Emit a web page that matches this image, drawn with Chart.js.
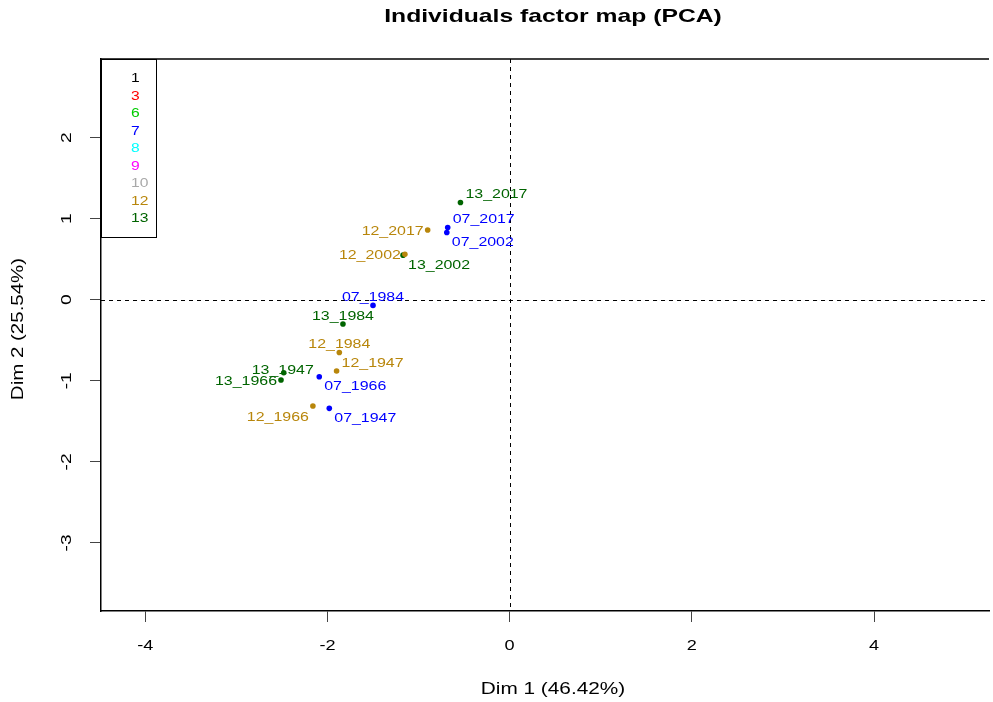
<!DOCTYPE html>
<html>
<head>
<meta charset="utf-8">
<script src="https://cdn.jsdelivr.net/npm/chart.js@4.4.1/dist/chart.umd.min.js"></script>
<style>
  html, body { margin: 0; padding: 0; background: #fff; }
  #wrap { width: 993px; height: 702px; position: relative; }
</style>
</head>
<body>
<div id="wrap"><canvas id="myChart"></canvas></div>
<script>
// individuals (labels are "group_year")
const names = ['13_2017', '07_2017', '07_2002', '12_2017', '12_2002', '13_2002', '07_1984', '13_1984',
               '12_1984', '12_1947', '07_1966', '13_1947', '13_1966', '12_1966', '07_1947'];
const dim1 = [-0.54, -0.68, -0.69, -0.90, -1.15, -1.17, -1.50, -1.83, -1.87, -1.90, -2.09, -2.48, -2.51, -2.16, -1.98];
const dim2 = [1.20, 0.89, 0.83, 0.86, 0.56, 0.55, -0.07, -0.30, -0.65, -0.88, -0.95, -0.90, -0.99, -1.31, -1.34];
// where the name sits around its point
const labelPos = ['ne', 'ne', 'se', 'w', 'w', 'se', 'n', 'n', 'n', 'ne', 'se', 'c', 'w', 'sw', 'se'];

const legendGroups = ['1', '3', '6', '7', '8', '9', '10', '12', '13'];
const legendColors = ['#000000', '#FF0000', '#00CD00', '#0000FF', '#00FFFF', '#FF00FF', '#A9A9A9', '#B8860B', '#006400'];
const plotGroups = ['07', '12', '13'];
const plotColors = { '07': '#0000FF', '12': '#B8860B', '13': '#006400' };

const xTicks = [-4, -2, 0, 2, 4];
const yTicks = [-3, -2, -1, 0, 1, 2];
const xRange = [-4.486, 5.262];
const yRange = [-3.84, 2.97];

const FONT = '"Liberation Sans", Arial, sans-serif';

// text a bit wider than the font, like the original device
function stretchText(ctx, text, x, y, size, color, align, opts) {
    opts = opts || {};
    ctx.save();
    ctx.translate(x, y);
    if (opts.rotate) ctx.rotate(opts.rotate);
    ctx.scale(opts.sx || 1.27, 1);
    ctx.font = (opts.bold ? 'bold ' : '') + size + 'px ' + FONT;
    ctx.fillStyle = color;
    ctx.textAlign = align;
    ctx.textBaseline = 'middle';
    ctx.fillText(text, 0, 0);
    ctx.restore();
}

const offsets = {
    ne: [5, -8, 'left'], se: [5, 10, 'left'], w: [-4, 1, 'right'], sw: [-4, 11, 'right'],
    n: [0, -8, 'center'], c: [-1, -2, 'center']
};

const mapPlugin = {
    id: 'mapText',
    beforeDatasetsDraw(chart) {
        const ctx = chart.ctx, a = chart.chartArea;
        const x0 = chart.scales.x.getPixelForValue(0);
        const y0 = chart.scales.y.getPixelForValue(0);
        ctx.save();
        ctx.strokeStyle = '#000';
        ctx.lineWidth = 1;
        ctx.setLineDash([4, 4]);
        ctx.beginPath();
        ctx.moveTo(Math.round(x0) + 0.5, a.top);
        ctx.lineTo(Math.round(x0) + 0.5, a.bottom);
        ctx.moveTo(a.left, Math.round(y0) + 0.5);
        ctx.lineTo(a.right, Math.round(y0) + 0.5);
        ctx.stroke();
        ctx.restore();
    },
    afterDraw(chart) {
        const ctx = chart.ctx, a = chart.chartArea;
        const sx = chart.scales.x, sy = chart.scales.y;

        // top of the box
        ctx.save();
        ctx.strokeStyle = '#000';
        ctx.lineWidth = 1.5;
        ctx.beginPath();
        ctx.moveTo(a.left, a.top);
        ctx.lineTo(a.right, a.top);
        ctx.stroke();
        ctx.restore();

        // tick labels
        xTicks.forEach(v => stretchText(ctx, String(v), sx.getPixelForValue(v), 646, 14.5, '#000', 'center', { sx: 1.25 }));
        yTicks.forEach(v => stretchText(ctx, String(v), 67, sy.getPixelForValue(v), 15, '#000', 'center', { sx: 1.28, rotate: -Math.PI / 2 }));

        // titles
        const midX = 553;
        stretchText(ctx, 'Individuals factor map (PCA)', midX, 17, 19, '#000', 'center', { bold: true, sx: 1.3 });
        stretchText(ctx, 'Dim 1 (46.42%)', midX, 690, 16, '#000', 'center', { sx: 1.3 });
        stretchText(ctx, 'Dim 2 (25.54%)', 19, 329, 16, '#000', 'center', { sx: 1.28, rotate: -Math.PI / 2 });

        // point names
        chart.data.datasets.forEach((ds, i) => {
            const meta = chart.getDatasetMeta(i);
            meta.data.forEach((pt, j) => {
                const d = ds.data[j];
                const o = offsets[d.pos];
                stretchText(ctx, d.name, pt.x + o[0], pt.y + o[1], 13.5, ds.backgroundColor, o[2], { sx: 1.18 });
            });
        });

        // legend box
        ctx.save();
        ctx.fillStyle = '#fff';
        ctx.fillRect(a.left, a.top, 55, 178);
        ctx.strokeStyle = '#000';
        ctx.lineWidth = 1;
        ctx.strokeRect(a.left + 0.5, a.top + 0.5, 55, 178);
        ctx.restore();
        legendGroups.forEach((g, i) => {
            stretchText(ctx, g, 131, a.top + 20 + i * 17.5, 12.5, legendColors[i], 'left', { sx: 1.25 });
        });
    }
};

const datasets = plotGroups.map(g => ({
    label: g,
    backgroundColor: plotColors[g],
    borderColor: plotColors[g],
    pointRadius: 2.8,
    pointBorderWidth: 0,
    data: names.map((n, i) => ({ x: dim1[i], y: dim2[i], name: n, pos: labelPos[i] }))
               .filter(p => p.name.startsWith(g + '_'))
}));

const axisCommon = {
    type: 'linear',
    grid: { display: true, drawOnChartArea: false, drawTicks: true, tickLength: 11, color: '#444', lineWidth: 1 },
    border: { display: true, color: '#000', width: 1.5 },
    ticks: { display: false }
};

new Chart(document.getElementById('myChart').getContext('2d'), {
    type: 'scatter',
    data: { datasets: datasets },
    options: {
        responsive: true,
        maintainAspectRatio: false,
        animation: false,
        devicePixelRatio: 1,
        layout: { padding: { top: 59, left: 0, right: 0, bottom: 0 } },
        plugins: { legend: { display: false }, tooltip: { enabled: false }, title: { display: false } },
        scales: {
            x: Object.assign({}, axisCommon, {
                min: xRange[0], max: xRange[1],
                afterBuildTicks: axis => { axis.ticks = xTicks.map(v => ({ value: v })); },
                afterFit: axis => { axis.height = 91; }
            }),
            y: Object.assign({}, axisCommon, {
                min: yRange[0], max: yRange[1],
                afterBuildTicks: axis => { axis.ticks = yTicks.map(v => ({ value: v })); },
                afterFit: axis => { axis.width = 101; }
            })
        }
    },
    plugins: [mapPlugin]
});
</script>
</body>
</html>
